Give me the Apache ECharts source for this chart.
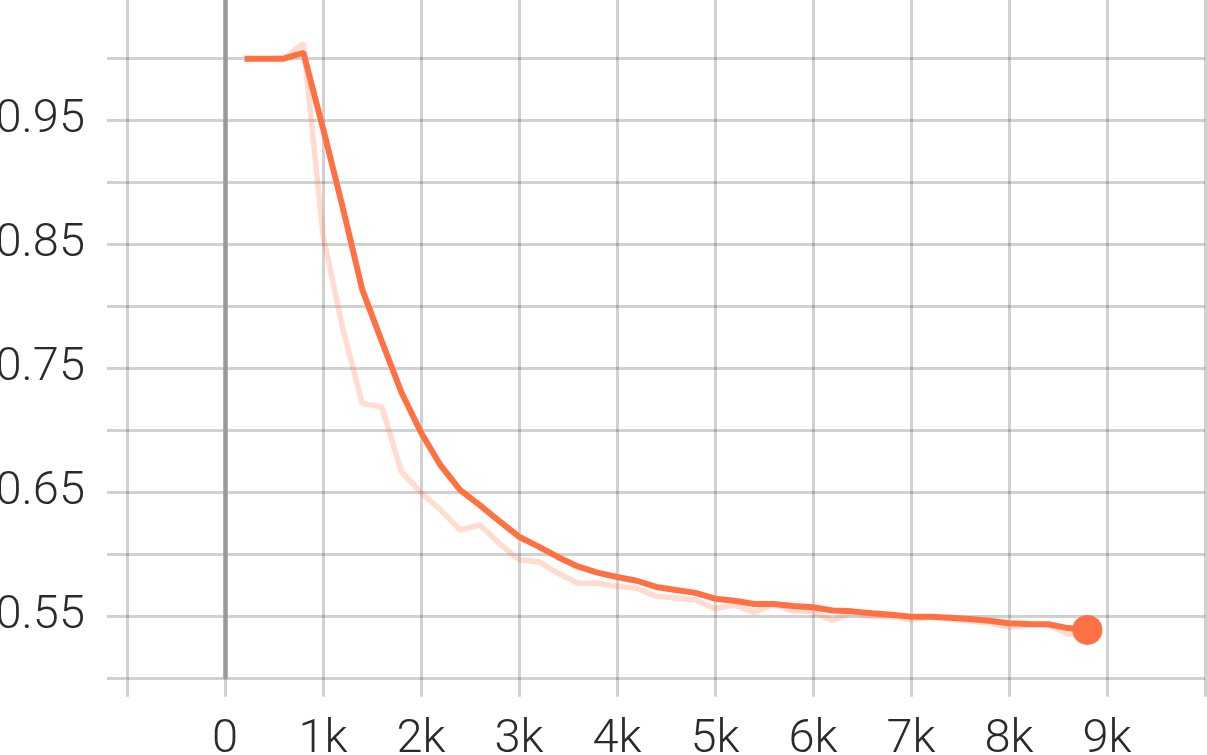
<!DOCTYPE html>
<html>
<head>
  <meta charset="utf-8">
  <script src="https://cdn.jsdelivr.net/npm/echarts@6/dist/echarts.min.js"></script>
  <style>
    html, body, #main {
      width: 100%;
      height: 100%;
      margin: 0;
      background: #fff;
    }
  </style>
</head>
<body>
<div id="main"></div>
<script>
var steps = [200, 400, 600, 800, 1000, 1200, 1400, 1600, 1800, 2000,
  2200, 2400, 2600, 2800, 3000, 3200, 3400, 3600, 3800, 4000,
  4200, 4400, 4600, 4800, 5000, 5200, 5400, 5600, 5800, 6000,
  6200, 6400, 6600, 6800, 7000, 7200, 7400, 7600, 7800, 8000,
  8200, 8400, 8600, 8800]

var rawValues = [1.0, 1.0, 1.0, 1.0124, 0.858, 0.783, 0.722, 0.719, 0.667, 0.650,
  0.636, 0.620, 0.624, 0.609, 0.596, 0.5944, 0.585, 0.577, 0.577, 0.5745,
  0.573, 0.5665, 0.565, 0.5635, 0.5565, 0.5595, 0.5535, 0.560, 0.5545, 0.554,
  0.547, 0.5535, 0.550, 0.550, 0.5476, 0.550, 0.548, 0.5465, 0.545, 0.5415,
  0.5432, 0.5435, 0.536, 0.537]

var smoothedValues = [1.0, 1.0, 1.0, 1.0048, 0.944, 0.8805, 0.814, 0.772, 0.731, 0.6985,
  0.672, 0.652, 0.640, 0.627, 0.6145, 0.6065, 0.598, 0.5905, 0.5855, 0.582,
  0.579, 0.574, 0.5715, 0.5692, 0.5645, 0.5628, 0.5602, 0.5602, 0.5586, 0.5576,
  0.555, 0.5543, 0.5527, 0.5516, 0.550, 0.550, 0.5492, 0.5481, 0.5468, 0.5447,
  0.5441, 0.5439, 0.5408, 0.5393]

var xLabels = { 0: '0', 1000: '1k', 2000: '2k', 3000: '3k', 4000: '4k', 5000: '5k', 6000: '6k', 7000: '7k', 8000: '8k', 9000: '9k' }
var yLabels = ['0.55', '0.65', '0.75', '0.85', '0.95']

var orange = '#ff7043'
var gridColor = 'rgba(0,0,0,0.18)'
var labelFont = { fontFamily: 'Roboto', fontWeight: 300, fontSize: 47, color: '#2b2b2b' }

var pairs = function (xs, ys) { return xs.map(function (x, i) { return [x, ys[i]] }) }

var chart = echarts.init(document.getElementById('main'))
chart.setOption({
  animation: false,
  grid: { left: 127, right: 2, top: -3.3, bottom: 76.3, containLabel: false, outerBoundsMode: 'none' },
  xAxis: {
    type: 'value',
    min: -1000,
    max: 10000,
    interval: 1000,
    axisLine: { show: false, onZero: false },
    axisTick: { show: true, length: 18, lineStyle: { color: gridColor, width: 3 } },
    splitLine: { show: true, lineStyle: { color: gridColor, width: 3 } },
    axisLabel: Object.assign({
      margin: 38,
      formatter: function (v) { return xLabels[v] || '' }
    }, labelFont)
  },
  yAxis: {
    type: 'value',
    min: 0.5,
    max: 1.05,
    interval: 0.05,
    axisLine: { show: false, onZero: false },
    axisTick: { show: true, length: 20, lineStyle: { color: gridColor, width: 3 } },
    splitLine: { show: true, lineStyle: { color: gridColor, width: 3 } },
    axisLabel: Object.assign({
      margin: 42,
      formatter: function (v) {
        var s = v.toFixed(2)
        return yLabels.indexOf(s) >= 0 ? s : ''
      }
    }, labelFont)
  },
  series: [
    {
      type: 'line',
      data: pairs(steps, rawValues),
      showSymbol: false,
      lineStyle: { color: orange, width: 5.5, opacity: 0.25 },
      markLine: {
        silent: true,
        symbol: 'none',
        label: { show: false },
        lineStyle: { color: '#999', width: 4.5, type: 'solid' },
        data: [{ xAxis: 0 }]
      },
      z: 2
    },
    {
      type: 'line',
      data: pairs(steps, smoothedValues),
      showSymbol: false,
      lineStyle: { color: orange, width: 6 },
      z: 3
    },
    {
      type: 'scatter',
      data: [[steps[steps.length - 1], smoothedValues[smoothedValues.length - 1]]],
      symbolSize: 30,
      itemStyle: { color: orange, opacity: 1 },
      z: 4
    }
  ]
})
</script>
</body>
</html>
